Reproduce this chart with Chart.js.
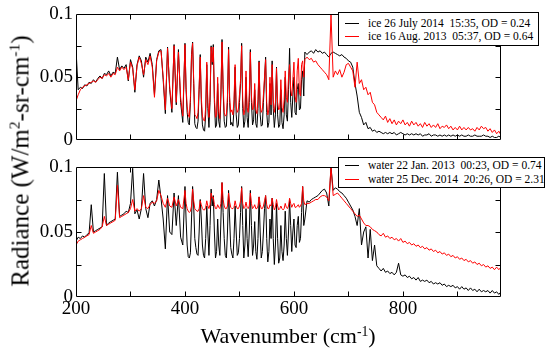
<!DOCTYPE html>
<html>
<head>
<meta charset="utf-8">
<script src="https://cdn.jsdelivr.net/npm/chart.js@4.4.1/dist/chart.umd.min.js"></script>
<style>
  html,body{margin:0;padding:0;background:#fff;}
  #wrap{position:relative;width:550px;height:348px;overflow:hidden;color:#000;}
  canvas{position:absolute;left:0;top:0;}
  .legend{position:absolute;border:1px solid #000;background:#fff;box-sizing:border-box;}
  .row{position:absolute;left:0;white-space:pre;font-size:11.5px;line-height:12px;font-family:'Liberation Serif';}
  .swatch{position:absolute;height:1px;width:14px;}
  .title{position:absolute;white-space:nowrap;line-height:1;font-family:'Liberation Serif';}
  sup{font-size:0.62em;vertical-align:0.55em;line-height:0;}
</style>
</head>
<body>
<div id="wrap">
  <canvas id="c1" width="550" height="348"></canvas>
  <canvas id="c2" width="550" height="348"></canvas>
  <div id="leg1" class="legend" style="left:338px;top:12px;width:201px;height:34px;"></div>
  <div id="leg2" class="legend" style="left:338px;top:157px;width:207px;height:31px;"></div>
  <div class="title" id="xt" style="left:288px;top:325px;font-size:22px;transform:translateX(-50%);font-family:'Liberation Serif';">Wavenumber (cm<sup>-1</sup>)</div>
  <div class="title" id="yt" style="left:20px;top:161px;font-size:25px;transform:translate(-50%,-50%) rotate(-90deg);font-family:'Liberation Serif';">Radiance (W/m<sup>2</sup>-sr-cm<sup>-1</sup>)</div>
</div>
<script>
// Wavenumber grid (cm-1): 4 cm-1 steps, 2 cm-1 steps in the dense line region
const wavenumber = [
200,204,208,212,216,220,224,228,232,236,
240,244,248,252,256,260,264,268,272,276,
280,284,288,292,296,300,304,308,312,316,
320,324,328,332,336,340,344,348,352,356,
360,364,368,372,376,380,384,388,392,396,
400,402,404,406,408,410,412,414,416,418,
420,422,424,426,428,430,432,434,436,438,
440,442,444,446,448,450,452,454,456,458,
460,462,464,466,468,470,472,474,476,478,
480,482,484,486,488,490,492,494,496,498,
500,502,504,506,508,510,512,514,516,518,
520,522,524,526,528,530,532,534,536,538,
540,542,544,546,548,550,552,554,556,558,
560,562,564,566,568,570,572,574,576,578,
580,582,584,586,588,590,592,594,596,598,
600,602,604,606,608,610,612,614,616,618,
620,
624,628,632,636,
640,644,648,652,656,660,664,668,672,676,
680,684,688,692,696,700,704,708,712,716,
720,724,728,732,736,740,744,748,752,756,
760,764,768,772,776,780,784,788,792,796,
800,804,808,812,816,820,824,828,832,836,
840,844,848,852,856,860,864,868,872,876,
880,884,888,892,896,900,904,908,912,916,
920,924,928,932,936,940,944,948,952,956,
960,964,968,972,976,980];

// Top panel: ice 26 July 2014 (black)
const ice2014 = [
0.072,0.040,0.042,0.041,0.044,0.043,0.046,0.045,0.048,0.046,
0.049,0.051,0.049,0.053,0.052,0.055,0.051,0.054,0.053,0.066,
0.056,0.059,0.057,0.060,0.047,0.064,0.058,0.038,0.060,0.067,
0.063,0.050,0.066,0.062,0.069,0.060,0.036,0.064,0.071,0.072,
0.048,0.021,0.074,0.040,0.022,0.076,0.028,0.072,0.030,0.014,
0.077,0.040,0.022,0.014,0.012,0.030,0.068,0.078,0.045,0.013,
0.010,0.009,0.015,0.040,0.068,0.030,0.012,0.008,0.007,0.020,
0.060,0.025,0.010,0.030,0.075,0.060,0.076,0.030,0.010,0.012,
0.045,0.015,0.010,0.035,0.080,0.040,0.015,0.010,0.011,0.030,
0.074,0.030,0.012,0.014,0.011,0.025,0.058,0.020,0.010,0.012,
0.030,0.045,0.077,0.025,0.010,0.015,0.050,0.018,0.010,0.030,
0.072,0.030,0.012,0.016,0.040,0.013,0.010,0.025,0.063,0.020,
0.011,0.012,0.030,0.048,0.066,0.022,0.010,0.014,0.045,0.020,
0.063,0.025,0.010,0.020,0.058,0.020,0.010,0.012,0.040,0.014,
0.009,0.020,0.050,0.020,0.015,0.040,0.073,0.030,0.018,0.035,
0.050,0.022,0.020,0.040,0.045,0.024,0.025,0.048,0.055,0.035,
0.070,
0.068,0.070,0.071,0.069,
0.072,0.070,0.071,0.069,0.070,0.068,0.066,0.069,0.070,0.069,
0.068,0.067,0.068,0.066,0.065,0.063,0.062,0.058,0.045,0.035,
0.022,0.018,0.012,0.014,0.009,0.010,0.007,0.008,0.006,0.007,
0.006,0.005,0.006,0.005,0.006,0.005,0.006,0.004,0.005,0.006,
0.005,0.004,0.005,0.004,0.005,0.004,0.005,0.004,0.005,0.003,
0.004,0.004,0.005,0.003,0.004,0.004,0.003,0.004,0.003,0.004,
0.003,0.004,0.003,0.004,0.003,0.004,0.003,0.004,0.003,0.003,
0.004,0.003,0.003,0.004,0.003,0.003,0.003,0.004,0.003,0.003,
0.002,0.003,0.002,0.002,0.003,0.002];

// Top panel: ice 16 Aug. 2013 (red)
const ice2013 = [
0.031,0.036,0.040,0.042,0.043,0.044,0.045,0.046,0.047,0.046,
0.048,0.050,0.049,0.052,0.051,0.053,0.050,0.053,0.052,0.058,
0.055,0.058,0.056,0.058,0.048,0.062,0.057,0.040,0.059,0.066,
0.061,0.052,0.064,0.060,0.067,0.058,0.034,0.063,0.070,0.071,
0.050,0.024,0.073,0.042,0.025,0.075,0.030,0.070,0.034,0.019,
0.076,0.042,0.027,0.020,0.018,0.034,0.066,0.077,0.048,0.020,
0.019,0.017,0.022,0.043,0.066,0.034,0.019,0.016,0.015,0.026,
0.062,0.030,0.018,0.035,0.074,0.062,0.074,0.034,0.018,0.020,
0.050,0.022,0.017,0.040,0.078,0.044,0.022,0.019,0.020,0.035,
0.072,0.034,0.022,0.024,0.020,0.032,0.060,0.027,0.022,0.024,
0.036,0.048,0.075,0.032,0.020,0.024,0.055,0.026,0.022,0.036,
0.070,0.035,0.024,0.026,0.045,0.024,0.021,0.032,0.062,0.028,
0.022,0.024,0.036,0.050,0.064,0.030,0.020,0.024,0.050,0.028,
0.060,0.032,0.022,0.030,0.057,0.030,0.024,0.026,0.048,0.026,
0.022,0.032,0.055,0.034,0.030,0.050,0.060,0.040,0.035,0.048,
0.062,0.035,0.030,0.055,0.065,0.038,0.035,0.060,0.063,0.050,
0.064,
0.066,0.064,0.065,0.062,
0.063,0.060,0.058,0.056,0.054,0.052,0.048,0.100,0.050,0.055,
0.052,0.056,0.050,0.054,0.060,0.061,0.058,0.055,0.042,0.062,
0.045,0.048,0.040,0.042,0.036,0.038,0.030,0.028,0.022,0.020,
0.018,0.016,0.019,0.014,0.017,0.013,0.016,0.012,0.015,0.013,
0.016,0.012,0.014,0.011,0.015,0.012,0.014,0.011,0.013,0.010,
0.014,0.011,0.013,0.010,0.012,0.010,0.013,0.009,0.011,0.010,
0.012,0.009,0.011,0.008,0.010,0.008,0.011,0.008,0.010,0.008,
0.010,0.008,0.009,0.007,0.010,0.008,0.011,0.009,0.010,0.007,
0.009,0.006,0.008,0.005,0.007,0.004];

// Bottom panel: water 22 Jan. 2013 (black)
const water2013 = [
0.043,0.046,0.045,0.047,0.046,0.048,0.049,0.071,0.050,0.051,
0.052,0.053,0.054,0.095,0.055,0.057,0.058,0.059,0.060,0.096,
0.062,0.063,0.064,0.066,0.065,0.072,0.099,0.064,0.067,0.060,
0.068,0.095,0.068,0.061,0.072,0.074,0.070,0.075,0.090,0.076,
0.060,0.037,0.078,0.050,0.048,0.080,0.055,0.078,0.046,0.040,
0.085,0.060,0.040,0.031,0.030,0.034,0.060,0.085,0.070,0.045,
0.038,0.033,0.032,0.050,0.075,0.060,0.040,0.032,0.030,0.045,
0.070,0.050,0.032,0.055,0.083,0.070,0.078,0.050,0.030,0.035,
0.060,0.040,0.032,0.060,0.088,0.065,0.045,0.032,0.030,0.050,
0.082,0.060,0.038,0.033,0.030,0.045,0.070,0.050,0.032,0.034,
0.045,0.065,0.085,0.055,0.030,0.040,0.068,0.045,0.031,0.050,
0.082,0.055,0.032,0.040,0.058,0.035,0.029,0.045,0.077,0.050,
0.030,0.035,0.050,0.068,0.078,0.045,0.027,0.035,0.060,0.045,
0.076,0.045,0.025,0.040,0.072,0.045,0.026,0.030,0.055,0.035,
0.028,0.040,0.066,0.045,0.032,0.050,0.075,0.055,0.035,0.050,
0.060,0.040,0.038,0.055,0.062,0.042,0.045,0.065,0.085,0.055,
0.060,
0.074,0.073,0.075,0.076,
0.077,0.078,0.080,0.082,0.083,0.080,0.070,0.100,0.082,0.084,
0.083,0.081,0.080,0.078,0.076,0.073,0.070,0.067,0.062,0.055,
0.068,0.040,0.050,0.054,0.030,0.052,0.028,0.040,0.024,0.022,
0.020,0.022,0.019,0.020,0.018,0.019,0.017,0.019,0.026,0.017,
0.016,0.017,0.015,0.016,0.014,0.015,0.013,0.015,0.012,0.013,
0.012,0.013,0.011,0.012,0.010,0.011,0.010,0.011,0.009,0.010,
0.008,0.009,0.008,0.009,0.007,0.008,0.006,0.008,0.006,0.007,
0.005,0.007,0.005,0.006,0.004,0.006,0.004,0.005,0.004,0.005,
0.003,0.005,0.003,0.004,0.002,0.004];

// Bottom panel: water 25 Dec. 2014 (red)
const water2014 = [
0.040,0.043,0.044,0.045,0.046,0.047,0.048,0.055,0.049,0.050,
0.051,0.052,0.054,0.062,0.055,0.056,0.057,0.058,0.059,0.086,
0.061,0.062,0.063,0.064,0.065,0.068,0.075,0.066,0.068,0.066,
0.068,0.078,0.069,0.068,0.071,0.073,0.072,0.074,0.082,0.078,
0.072,0.069,0.076,0.070,0.069,0.077,0.070,0.075,0.069,0.068,
0.082,0.072,0.068,0.066,0.065,0.066,0.070,0.083,0.074,0.068,
0.067,0.066,0.066,0.068,0.074,0.071,0.068,0.067,0.067,0.069,
0.074,0.070,0.068,0.071,0.080,0.076,0.077,0.071,0.068,0.068,
0.071,0.069,0.068,0.072,0.088,0.075,0.070,0.068,0.068,0.070,
0.080,0.073,0.069,0.068,0.068,0.069,0.074,0.070,0.068,0.068,
0.070,0.074,0.084,0.072,0.068,0.069,0.073,0.069,0.068,0.070,
0.080,0.072,0.068,0.069,0.071,0.068,0.068,0.070,0.077,0.071,
0.068,0.068,0.070,0.074,0.078,0.071,0.068,0.068,0.071,0.070,
0.076,0.071,0.067,0.069,0.075,0.070,0.067,0.068,0.070,0.068,
0.067,0.068,0.072,0.069,0.068,0.070,0.076,0.072,0.069,0.071,
0.072,0.069,0.069,0.070,0.071,0.069,0.070,0.072,0.085,0.074,
0.071,
0.072,0.072,0.073,0.074,
0.075,0.075,0.077,0.078,0.078,0.077,0.074,0.100,0.078,0.079,
0.080,0.078,0.076,0.074,0.072,0.070,0.068,0.066,0.064,0.062,
0.063,0.060,0.057,0.055,0.055,0.054,0.052,0.051,0.050,0.048,
0.047,0.049,0.046,0.047,0.045,0.046,0.044,0.045,0.043,0.045,
0.042,0.043,0.041,0.042,0.040,0.041,0.039,0.040,0.038,0.039,
0.037,0.038,0.036,0.037,0.035,0.036,0.034,0.035,0.033,0.034,
0.032,0.033,0.031,0.032,0.030,0.031,0.029,0.030,0.028,0.029,
0.027,0.028,0.026,0.027,0.025,0.026,0.024,0.025,0.023,0.024,
0.022,0.023,0.021,0.023,0.021,0.023];

const topLabels = ["ice 26 July 2014  15:35, OD = 0.24", "ice 16 Aug. 2013  05:37, OD = 0.64"];
const bottomLabels = ["water 22 Jan. 2013  00:23, OD = 0.74", "water 25 Dec. 2014  20:26, OD = 2.31"];
const xTickLabels = [200, 400, 600, 800];
const yTickLabels = [0, 0.05, 0.1];
const xTickMarks = [300,400,500,600,700,800,900];
const yTickMarks = [0.025,0.05,0.075];
const seriesColors = ["#000000", "#ff0000"];

Chart.defaults.font.family = 'Liberation Serif';

const pts = arr => wavenumber.map((w, i) => ({x: w, y: arr[i]}));

const frameTicks = {
  id: 'frameTicks',
  afterDatasetsDraw(chart) {
    const {ctx, chartArea: a, scales: {x, y}} = chart;
    ctx.save();
    ctx.strokeStyle = '#000';
    ctx.lineWidth = 1;
    const L = Math.round(a.left) + 0.5, R = Math.round(a.right) - 0.5;
    const T = Math.round(a.top) + 0.5, B = Math.round(a.bottom) - 0.5;
    ctx.beginPath();
    ctx.rect(L, T, R - L, B - T);
    xTickMarks.forEach(v => {
      const px = Math.round(x.getPixelForValue(v)) + 0.5;
      ctx.moveTo(px, B); ctx.lineTo(px, B - 5);
      ctx.moveTo(px, T); ctx.lineTo(px, T + 5);
    });
    yTickMarks.forEach(v => {
      const py = Math.round(y.getPixelForValue(v)) + 0.5;
      ctx.moveTo(L, py); ctx.lineTo(L + 5, py);
      ctx.moveTo(R, py); ctx.lineTo(R - 5, py);
    });
    ctx.stroke();
    ctx.restore();
  }
};

function makeChart(id, data1, data2, labels, padTop, xHeight, showX) {
  const tickFont = {family: 'Liberation Serif', size: 19};
  return new Chart(document.getElementById(id), {
    type: 'line',
    data: {
      datasets: [
        {label: labels[0], data: pts(data1), borderColor: seriesColors[0], borderWidth: 1, pointRadius: 0, order: 1},
        {label: labels[1], data: pts(data2), borderColor: seriesColors[1], borderWidth: 1, pointRadius: 0, order: 0}
      ]
    },
    options: {
      responsive: false,
      animation: false,
      devicePixelRatio: 1,
      layout: {padding: {top: padTop, right: 49, left: 0, bottom: 0}},
      plugins: {legend: {display: false}, tooltip: {enabled: false}},
      elements: {line: {tension: 0}},
      scales: {
        x: {
          type: 'linear', min: 200, max: 980,
          grid: {display: false, drawTicks: false},
          border: {display: false},
          ticks: {display: showX, font: tickFont, color: '#000', padding: 1, maxRotation: 0, autoSkip: false,
                  callback: v => String(v)},
          afterBuildTicks: s => { s.ticks = xTickLabels.map(v => ({value: v})); },
          afterFit: s => { s.height = xHeight; }
        },
        y: {
          min: 0, max: 0.1,
          grid: {display: false, drawTicks: false},
          border: {display: false},
          ticks: {font: tickFont, color: '#000', padding: 3, autoSkip: false,
                  callback: v => (v === 0 ? '0' : String(+v.toFixed(3)))},
          afterBuildTicks: s => { s.ticks = yTickLabels.map(v => ({value: v})); },
          afterFit: s => { s.width = 76; }
        }
      }
    },
    plugins: [frameTicks]
  });
}

makeChart('c1', ice2014, ice2013, topLabels, 10, 208, false);
makeChart('c2', water2013, water2014, bottomLabels, 167, 51, true);

function buildLegend(id, labels, rowTops) {
  const box = document.getElementById(id);
  labels.forEach((lab, i) => {
    const sw = document.createElement('div');
    sw.className = 'swatch';
    sw.style.left = '6px';
    sw.style.top = (rowTops[i] + 6) + 'px';
    sw.style.background = seriesColors[i];
    box.appendChild(sw);
    const t = document.createElement('div');
    t.className = 'row';
    t.style.left = '29px';
    t.style.top = rowTops[i] + 'px';
    t.textContent = lab;
    box.appendChild(t);
  });
}
buildLegend('leg1', topLabels, [4, 17]);
buildLegend('leg2', bottomLabels, [1, 15]);
</script>
</body>
</html>
